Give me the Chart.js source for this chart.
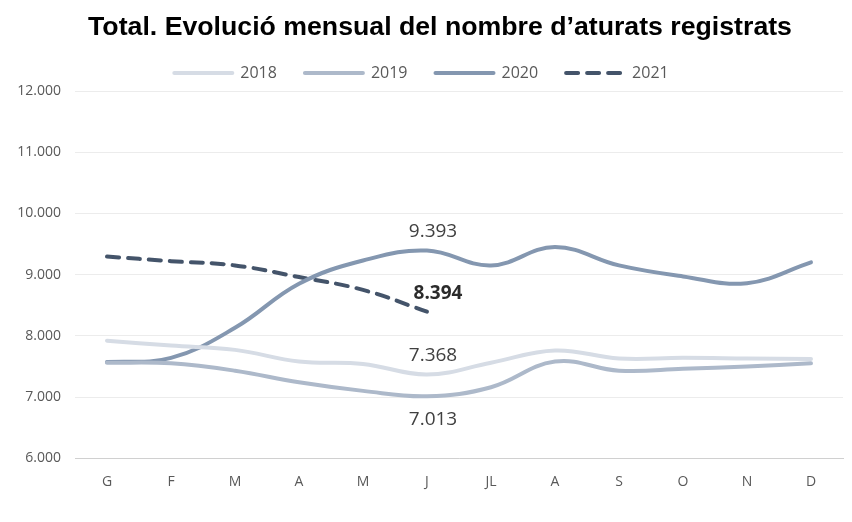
<!DOCTYPE html>
<html>
<head>
<meta charset="utf-8">
<script src="https://cdn.jsdelivr.net/npm/chart.js@4/dist/chart.umd.min.js"></script>
<style>
  html, body { margin: 0; padding: 0; background: #ffffff; }
  #wrap { width: 852px; height: 522px; }
</style>
</head>
<body>
<div id="wrap"><canvas id="aturats"></canvas></div>
<script>
const chartTitle = 'Total. Evolució mensual del nombre d’aturats registrats';
const months = ['G', 'F', 'M', 'A', 'M', 'J', 'JL', 'A', 'S', 'O', 'N', 'D'];
const years = ['2018', '2019', '2020', '2021'];
const values2018 = [7920, 7840, 7770, 7580, 7540, 7368, 7560, 7760, 7630, 7640, 7630, 7620];
const values2019 = [7560, 7550, 7430, 7240, 7100, 7013, 7160, 7580, 7430, 7460, 7500, 7550];
const values2020 = [7570, 7640, 8130, 8850, 9230, 9393, 9150, 9450, 9150, 8970, 8860, 9200];
const values2021 = [9295, 9220, 9150, 8960, 8750, 8394];
const yTicks = [6000, 7000, 8000, 9000, 10000, 11000, 12000];

// which value gets a number written next to it
const valueLabels = [
    { series: 2, index: 5, pos: 'above', bold: false },
    { series: 3, index: 5, pos: 'right', bold: true },
    { series: 0, index: 5, pos: 'above', bold: false },
    { series: 1, index: 5, pos: 'below', bold: false }
];

const fmt = v => v.toLocaleString('de-DE');

const labelPlugin = {
    id: 'valueLabels',
    afterDatasetsDraw(chart) {
        const ctx = chart.ctx;
        const x = chart.scales.x, y = chart.scales.y;
        ctx.save();
        valueLabels.forEach(l => {
            const v = chart.data.datasets[l.series].data[l.index];
            const px = x.getPixelForValue(l.index);
            const py = y.getPixelForValue(v);
            ctx.font = (l.bold ? 'bold ' : '') + '19px "Open Sans", sans-serif';
            ctx.fillStyle = l.bold ? '#2b2b2b' : '#404040';
            ctx.textAlign = 'center';
            ctx.textBaseline = 'middle';
            if (l.pos === 'above') ctx.fillText(fmt(v), px + 6, py - 19);
            else if (l.pos === 'below') ctx.fillText(fmt(v), px + 6, py + 23);
            else ctx.fillText(fmt(v), px + 11, py - 18);
        });
        ctx.restore();
    }
};

// title sits a little right of the canvas centre in the original
const titlePlugin = {
    id: 'offsetTitle',
    afterDraw(chart) {
        const ctx = chart.ctx;
        ctx.save();
        ctx.font = 'bold 26.7px "Liberation Sans", Arial, sans-serif';
        ctx.fillStyle = '#000000';
        ctx.textAlign = 'center';
        ctx.textBaseline = 'middle';
        ctx.fillText(chartTitle, 440, 28);
        ctx.restore();
    }
};

const colors = ['#d6dce5', '#adb9ca', '#8497b0', '#44546a'];
const series = [values2018, values2019, values2020, values2021];

new Chart(document.getElementById('aturats'), {
    type: 'line',
    data: {
        labels: months,
        datasets: series.map((d, i) => ({
            label: years[i],
            data: d,
            borderColor: colors[i],
            backgroundColor: colors[i],
            borderWidth: 4,
            borderDash: i === 3 ? [12, 9] : [],
            borderCapStyle: 'round',
            pointRadius: 0,
            tension: 0.4,
            fill: false
        }))
    },
    options: {
        responsive: true,
        maintainAspectRatio: false,
        animation: false,
        layout: { padding: { left: 0, right: 9, top: 37, bottom: 25 } },
        plugins: {
            title: { display: false },
            legend: {
                position: 'top',
                maxHeight: 55,
                labels: {
                    usePointStyle: true,
                    pointStyle: 'line',
                    pointStyleWidth: 58,
                    boxWidth: 58,
                    boxHeight: 16,
                    padding: 28,
                    color: '#595959',
                    font: { family: '"Open Sans", sans-serif', size: 16 },
                    generateLabels: chart => {
                        const items = Chart.defaults.plugins.legend.labels.generateLabels(chart);
                        items.forEach(it => {
                            const ds = chart.data.datasets[it.datasetIndex];
                            it.lineDash = ds.borderDash;
                            it.lineCap = 'round';
                            it.lineWidth = 4;
                        });
                        return items;
                    }
                }
            },
            tooltip: { enabled: false }
        },
        scales: {
            y: {
                min: 6000,
                max: 12000,
                afterFit: s => { s.width = 75; },
                afterBuildTicks: s => { s.ticks = yTicks.map(v => ({ value: v })); },
                ticks: {
                    color: '#595959',
                    padding: 14,
                    font: { family: '"Open Sans", sans-serif', size: 14 },
                    callback: v => fmt(v)
                },
                grid: { color: '#ececec', lineWidth: 1, drawTicks: false },
                border: { display: false }
            },
            x: {
                offset: true,
                ticks: {
                    color: '#595959',
                    padding: 7,
                    font: { family: '"Open Sans", sans-serif', size: 14 }
                },
                grid: { display: false, offset: true },
                border: { display: true, color: '#d0d0d0', width: 1 }
            }
        }
    },
    plugins: [labelPlugin, titlePlugin]
});
</script>
</body>
</html>
